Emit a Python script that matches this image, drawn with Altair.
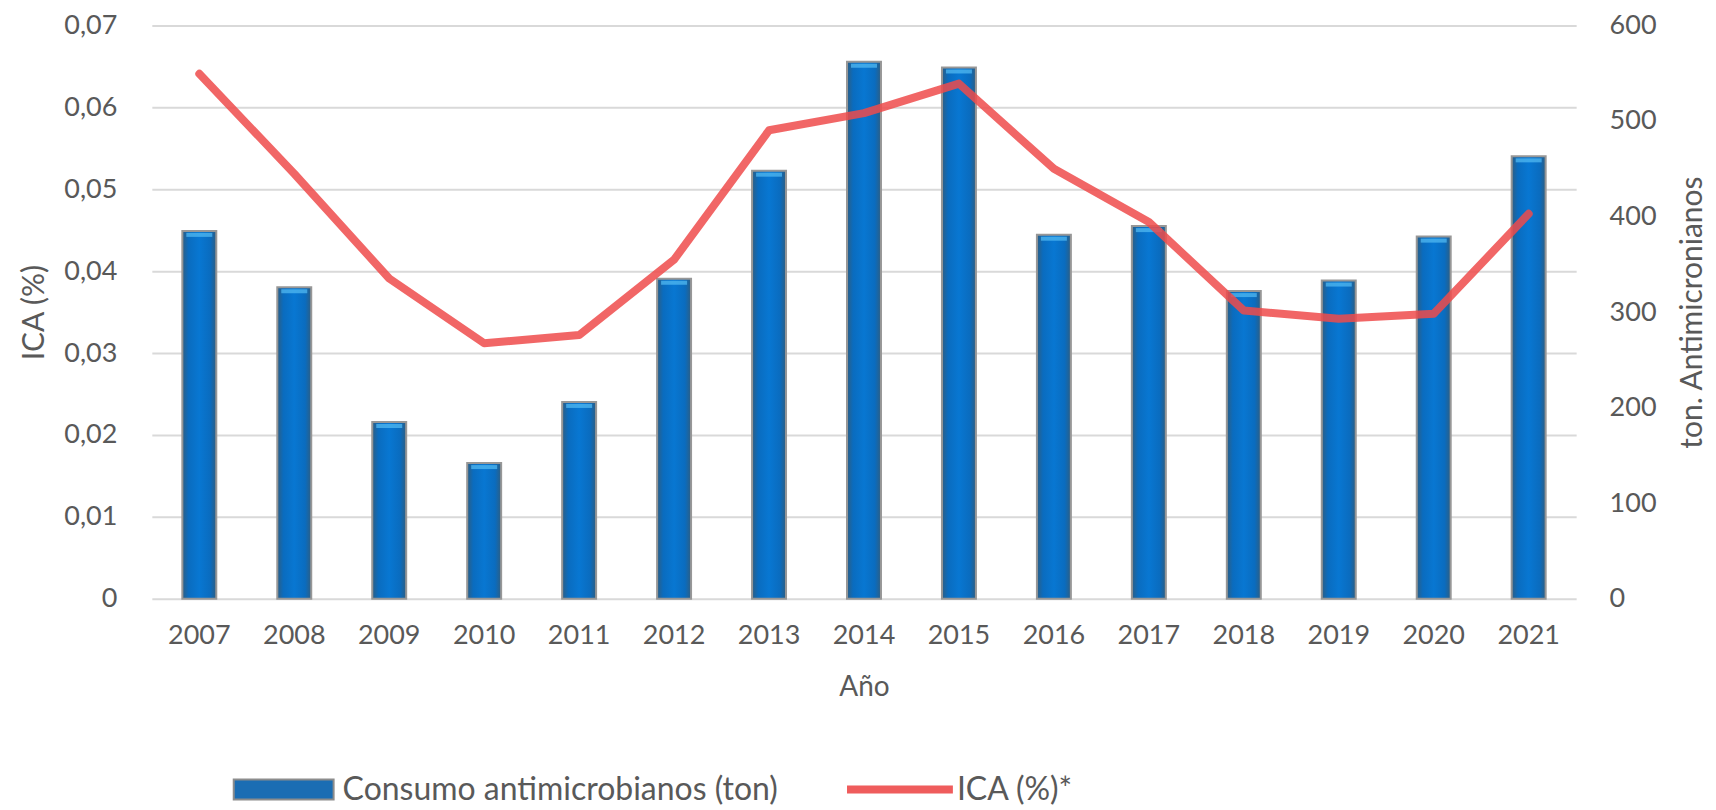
import altair as alt
import pandas as pd

# ---- data ----
years = [str(y) for y in range(2007, 2022)]
consumo_ton = [385, 326, 185, 142, 206, 335, 448, 562, 556, 381, 390, 322, 333, 379, 463]
ica_pct = [0.0641, 0.0519, 0.0391, 0.0312, 0.0322, 0.0414, 0.0572, 0.0593,
           0.0629, 0.0525, 0.0460, 0.0352, 0.0342, 0.0348, 0.0470]
left_ticks = [0, 0.01, 0.02, 0.03, 0.04, 0.05, 0.06, 0.07]
right_ticks = [0, 100, 200, 300, 400, 500, 600]

bar_name = "Consumo antimicrobianos (ton)"
line_name = "ICA (%)*"

df = pd.DataFrame({"Año": years, "ton": consumo_ton, "ica": ica_pct,
                   "serie_bar": bar_name, "serie_line": line_name})

FONT = "Lato"
TXT = "#595959"

x_enc = alt.X(
    "Año:N", sort=years,
    scale=alt.Scale(paddingInner=0, paddingOuter=0),
    axis=alt.Axis(title="Año", labelAngle=0, labelFont=FONT, labelFontSize=27,
                  labelColor=TXT, titleFont=FONT, titleFontSize=28, titleColor=TXT,
                  titleFontWeight="normal", labelPadding=24, titlePadding=25,
                  domain=False, ticks=False, grid=False),
)

y_right = alt.Y(
    "ton:Q",
    scale=alt.Scale(domain=[0, 600], nice=False),
    axis=alt.Axis(orient="right", values=right_ticks, title="ton. Antimicronianos",
                  titleAngle=270, titleBaseline="top",
                  labelFont=FONT, labelFontSize=27, labelColor=TXT,
                  titleFont=FONT, titleFontSize=30, titleColor=TXT,
                  titleFontWeight="normal", labelPadding=33, titlePadding=22,
                  domain=False, ticks=False, grid=False),
)

bars_legend = alt.Chart(df).mark_bar(size=34).encode(
    x=x_enc,
    y=y_right,
    fill=alt.Fill(
        "serie_bar:N",
        scale=alt.Scale(domain=[bar_name], range=["#1B6DB3"]),
        legend=alt.Legend(
            title=None, orient="none", legendX=116, legendY=749, padding=0,
            symbolType="M-5,-1H5V1H-5Z", symbolSize=400,
            symbolStrokeColor="#8C8C8C", symbolStrokeWidth=2, symbolOpacity=1,
            labelFont=FONT, labelFontSize=32, labelColor=TXT, labelOffset=43,
            labelLimit=0,
        ),
    ),
)

bar_grad = alt.Gradient(
    gradient="linear", x1=0, x2=1, y1=0, y2=0,
    stops=[
        alt.GradientStop(color="#2E5E82", offset=0),
        alt.GradientStop(color="#0A6CBF", offset=0.18),
        alt.GradientStop(color="#0877D2", offset=0.5),
        alt.GradientStop(color="#0A6CBF", offset=0.82),
        alt.GradientStop(color="#2E5E82", offset=1),
    ],
)

bars_face = alt.Chart(df).mark_bar(
    size=34, fill=bar_grad, stroke="#979797", strokeWidth=2
).encode(x=x_enc, y=y_right)

bar_caps = alt.Chart(df).mark_tick(
    color="#56BDF3", thickness=4, size=26, yOffset=4
).encode(x=x_enc, y=y_right)

line = alt.Chart(df).mark_line(
    strokeWidth=8, opacity=0.85, strokeJoin="round", strokeCap="round"
).encode(
    x=x_enc,
    y=alt.Y(
        "ica:Q",
        scale=alt.Scale(domain=[0, 0.07], nice=False),
        axis=alt.Axis(orient="left", values=left_ticks, title="ICA (%)",
                      labelExpr="datum.value == 0 ? '0' : replace(format(datum.value, '.2f'), '.', ',')",
                      labelFont=FONT, labelFontSize=27, labelColor=TXT,
                      titleFont=FONT, titleFontSize=30, titleColor=TXT,
                      titleFontWeight="normal", labelPadding=35, titlePadding=14,
                      domain=False, ticks=False, grid=True,
                      gridColor="#D9D9D9", gridWidth=2),
    ),
    color=alt.Color(
        "serie_line:N",
        scale=alt.Scale(domain=[line_name], range=["#EE4B4B"]),
        legend=alt.Legend(
            title=None, orient="none", legendX=733, legendY=749, padding=0,
            symbolType="M-5.3,0H5.3", symbolSize=400, symbolStrokeWidth=8,
            symbolOpacity=0.9,
            labelFont=FONT, labelFontSize=32, labelColor=TXT, labelOffset=41,
            labelLimit=0,
        ),
    ),
)

bars = alt.layer(bars_legend, bars_face, bar_caps)

chart = alt.layer(bars, line).resolve_scale(y="independent").properties(
    width=1426, height=574,
    padding={"left": 11, "top": 3, "right": 0, "bottom": 0},
    background="white",
).configure_view(stroke=None)

chart.save("out.html", embed_options={"renderer": "svg", "actions": False})
